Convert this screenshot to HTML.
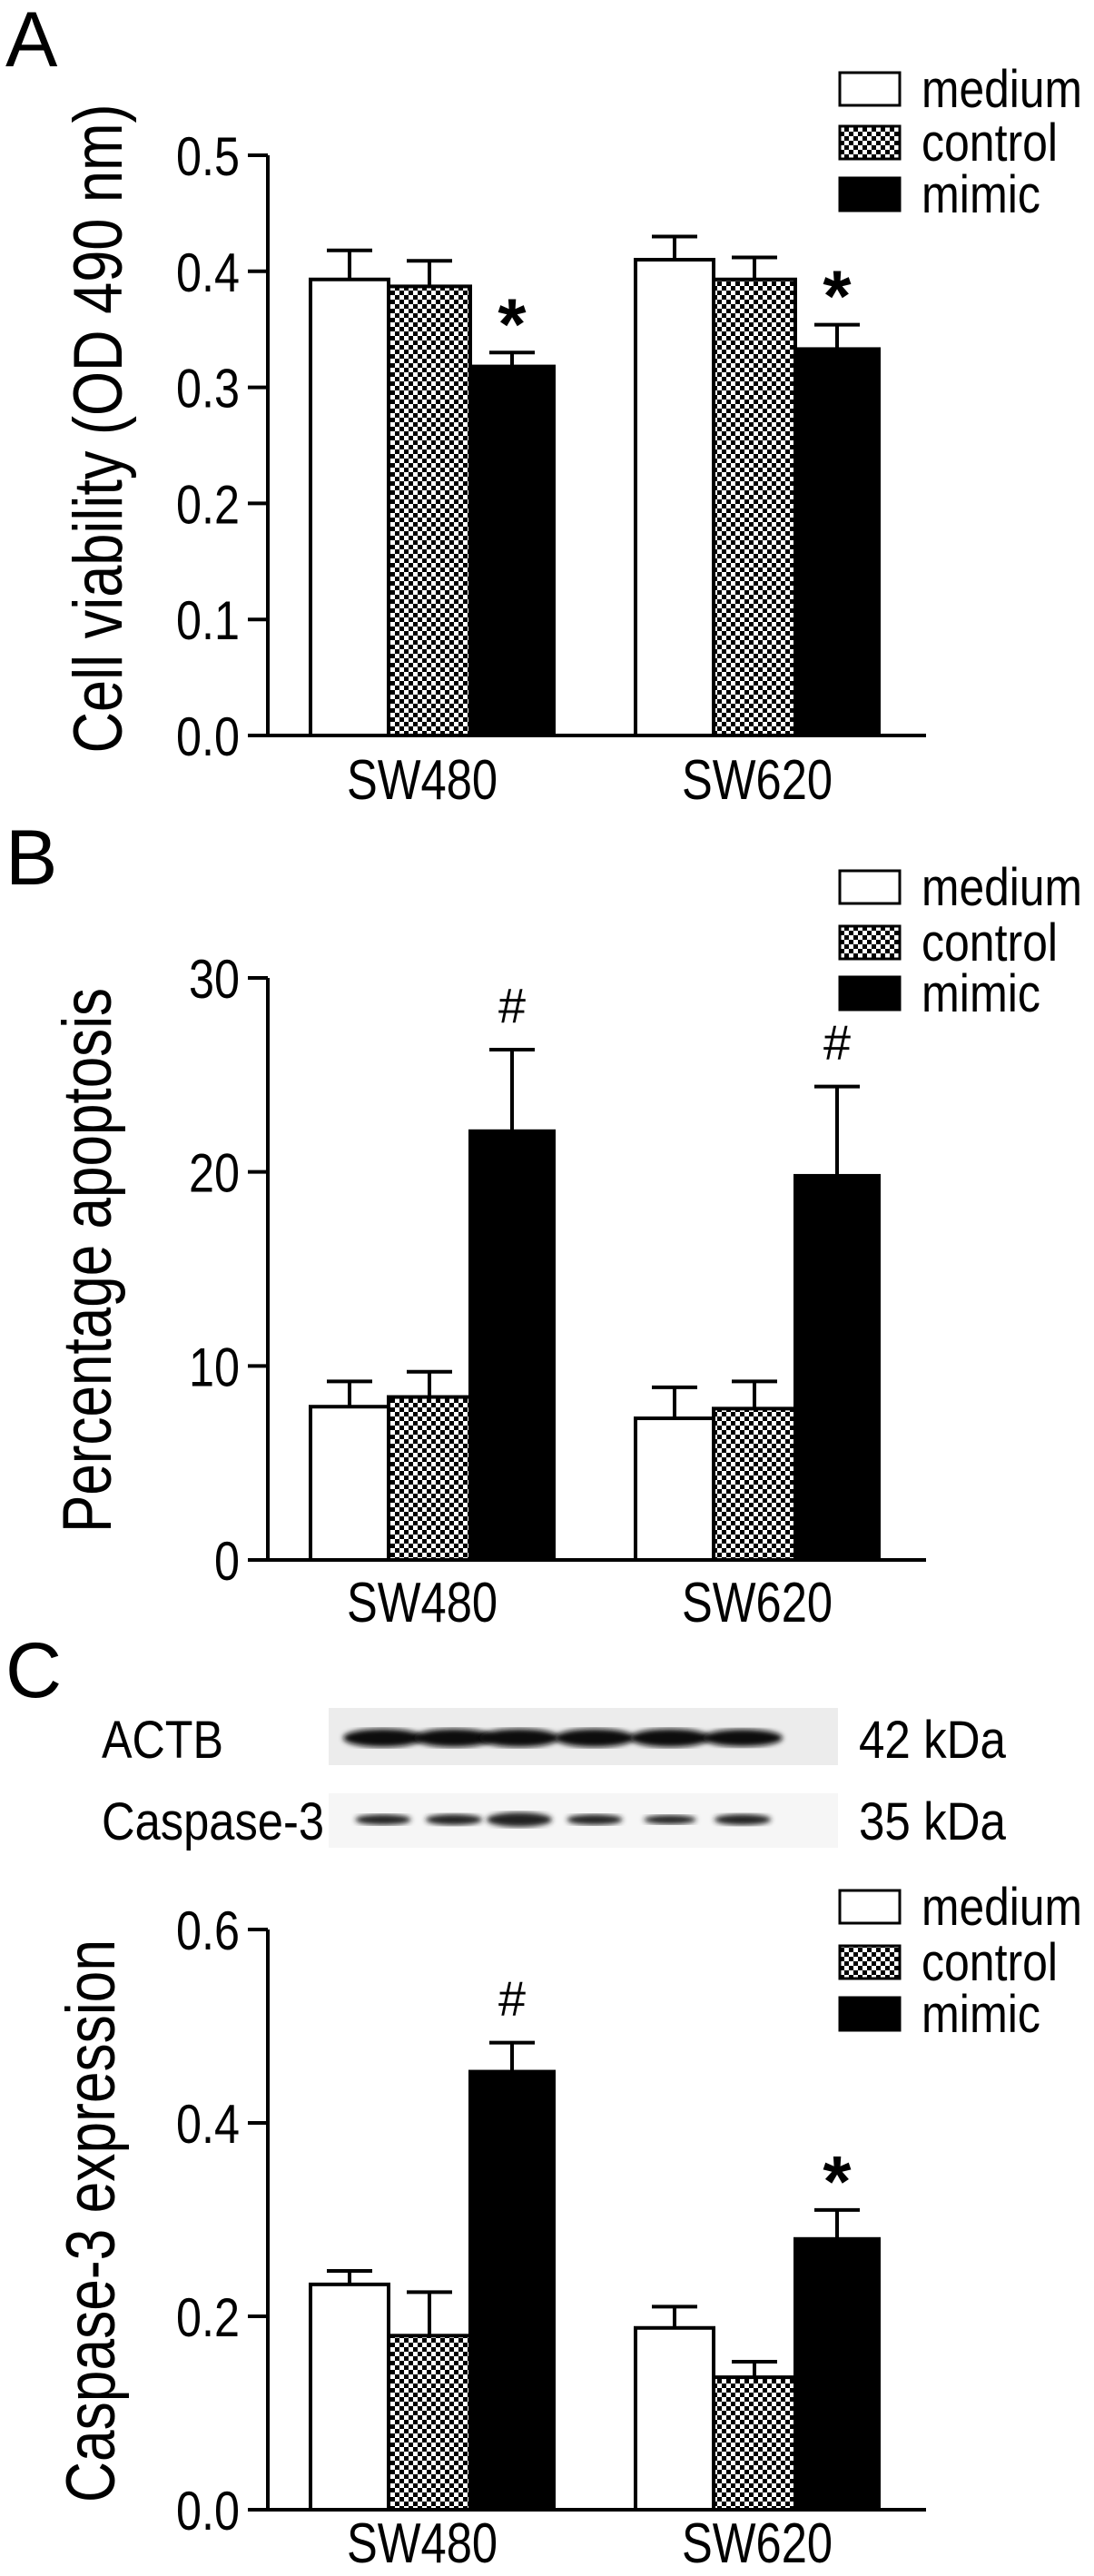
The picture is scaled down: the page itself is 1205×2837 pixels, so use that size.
<!DOCTYPE html>
<html><head><meta charset="utf-8"><style>
html,body{margin:0;padding:0;background:#fff;}
svg{display:block;font-family:"Liberation Sans",Arial,sans-serif;}
</style></head><body>
<svg id="fig" width="1205" height="2837" viewBox="0 0 1205 2837" xmlns="http://www.w3.org/2000/svg">
<defs>
<pattern id="chk" patternUnits="userSpaceOnUse" width="10" height="10">
<rect width="10" height="10" fill="#fff"/><rect width="5" height="5" fill="#000"/><rect x="5" y="5" width="5" height="5" fill="#000"/>
</pattern>
<filter id="blur"><feGaussianBlur stdDeviation="3"/></filter>
</defs>
<g id="root"></g>
</svg>
<script>
const categories = ["SW480","SW620"];
const seriesNames = ["medium","control","mimic"];
// Panel A
const aMean = [[0.393,0.410],[0.387,0.393],[0.318,0.333]];
const aErr  = [[0.418,0.430],[0.409,0.412],[0.330,0.354]];
const aTicks = ["0.0","0.1","0.2","0.3","0.4","0.5"];
const aTickVals = [0,0.1,0.2,0.3,0.4,0.5];
const aMarks = [[null,null],[null,null],["*","*"]];
// Panel B
const bMean = [[7.9,7.3],[8.4,7.8],[22.1,19.8]];
const bErr  = [[9.2,8.9],[9.7,9.2],[26.3,24.4]];
const bTicks = ["0","10","20","30"];
const bTickVals = [0,10,20,30];
const bMarks = [[null,null],[null,null],["#","#"]];
// Panel C
const cMean = [[0.233,0.188],[0.180,0.137],[0.453,0.280]];
const cErr  = [[0.247,0.210],[0.225,0.153],[0.483,0.310]];
const cTicks = ["0.0","0.2","0.4","0.6"];
const cTickVals = [0,0.2,0.4,0.6];
const cMarks = [[null,null],[null,null],["#","*"]];
// Blot band intensities (relative)
const actbBands = [1,1,1,1,1,0.95];
const caspBands = [0.55,0.6,1,0.55,0.4,0.6];

const NS="http://www.w3.org/2000/svg";
const root=document.getElementById('root');
function mk(tag,attrs,parent){const e=document.createElementNS(NS,tag);for(const k in attrs)e.setAttribute(k,attrs[k]);(parent||root).appendChild(e);return e;}
function txt(s,attrs,parent){const e=mk('text',attrs,parent);e.textContent=s;return e;}

function panel(cfg){
  const g=mk('g',{});
  
  
  const y0=cfg.y0,yTop=cfg.yTop,vmax=cfg.vmax;
  const ys=v=>y0-(v/vmax)*(y0-yTop);
  const gStart=[342,700], bw=[86,90,92];
  const xs=(ci,si)=>{let x=gStart[ci];for(let k=0;k<si;k++)x+=bw[k];return x;};
  for(let si=0;si<3;si++)for(let ci=0;ci<2;ci++){
    const x=xs(ci,si),w=bw[si],m=cfg.mean[si][ci],e=cfg.err[si][ci];
    const eb=mk('line',{x1:x+w/2,x2:x+w/2,y1:ys(m),y2:ys(e),stroke:'#000','stroke-width':4},g);
    
    
    const cap=mk('line',{x1:x+w/2-25,x2:x+w/2+25,y1:ys(e),y2:ys(e),stroke:'#000','stroke-width':4},g);
    
    
    const fill=si===0?'#fff':si===1?'url(#chk)':'#000';
    const r=mk('rect',{x:x,y:ys(m),width:w,height:y0-ys(m),fill:fill,stroke:'#000','stroke-width':4},g);
    
    
    const mark=cfg.marks[si][ci];
    if(mark){
      const t=txt(mark,{x:x+w/2,y:ys(e)-(mark==='*'?4:30),'text-anchor':'middle','font-size':mark==='*'?80:54,'font-weight':mark==='*'?'bold':'normal'},g);
      
      
    }
  }
  const ya=mk('line',{x1:295,x2:295,y1:yTop,y2:y0+2,stroke:'#000','stroke-width':4},g);
  
  
  const xa=mk('line',{x1:273,x2:1020,y1:y0,y2:y0,stroke:'#000','stroke-width':4},g);
  
  
  cfg.tickVals.forEach((v,i)=>{
    const tk=mk('line',{x1:273,x2:295,y1:ys(v),y2:ys(v),stroke:'#000','stroke-width':4},g);
    
    
    const lab=cfg.ticks[i];
    const t=txt(lab,{x:264,y:ys(v)+22,'text-anchor':'end','font-size':60,textLength:lab.length===3?70:(lab.length===2?56:28),lengthAdjust:'spacingAndGlyphs'},g);
    
    
  });
  categories.forEach((c,ci)=>{
    const cx=[465,834][ci];
    const t=txt(c,{x:cx,y:cfg.catY+22,'text-anchor':'middle','font-size':62,textLength:166,lengthAdjust:'spacingAndGlyphs'},g);
    
    
  });
  const tt=txt(cfg.title,{x:0,y:0,transform:`translate(${cfg.titleX},${cfg.titleC}) rotate(-90)`,'text-anchor':'middle','font-size':76,textLength:cfg.titleLen,lengthAdjust:'spacingAndGlyphs'},g);
  
  
  const lens=[177,150,131];
  cfg.legend.forEach((ly,si)=>{
    const fill=si===0?'#fff':si===1?'url(#chk)':'#000';
    const b=mk('rect',{x:925,y:ly-18,width:66,height:36,fill:fill,stroke:'#000','stroke-width':3},g);
    
    
    const t=txt(seriesNames[si],{x:1015,y:ly+20,'font-size':58,textLength:lens[si],lengthAdjust:'spacingAndGlyphs'},g);
    
    
  });
  const pl=txt(cfg.letter,{x:6,y:cfg.letterY,'font-size':86},g);
  
  
}

panel({name:'panel-a-cell-viability',y0:810,yTop:171,vmax:0.5,mean:aMean,err:aErr,marks:aMarks,ticks:aTicks,tickVals:aTickVals,catY:858,title:'Cell viability (OD 490 nm)',titleX:134,titleC:472,titleLen:715,legend:[98,157,214],letter:'A',letterY:73});
panel({name:'panel-b-apoptosis',y0:1718,yTop:1077,vmax:30,mean:bMean,err:bErr,marks:bMarks,ticks:bTicks,tickVals:bTickVals,catY:1764,title:'Percentage apoptosis',titleX:122,titleC:1388,titleLen:600,legend:[977,1038,1094],letter:'B',letterY:974});
panel({name:'panel-c-caspase3',y0:2764,yTop:2125,vmax:0.6,mean:cMean,err:cErr,marks:cMarks,ticks:cTicks,tickVals:cTickVals,catY:2800,title:'Caspase-3 expression',titleX:126,titleC:2446,titleLen:620,legend:[2100,2161,2218],letter:'C',letterY:1869});

const wb=mk('g',{});


const bg1=mk('rect',{x:362,y:1881,width:561,height:63,fill:'#ececec'},wb);


const bg2=mk('rect',{x:362,y:1975,width:561,height:60,fill:'#f6f6f6'},wb);


const lanes=[422,500,572,655,738,818];
actbBands.forEach((v,i)=>{
  const e=mk('ellipse',{cx:lanes[i],cy:1914,rx:44,ry:10*v,fill:'#111',filter:'url(#blur)'},wb);
  
  
});
caspBands.forEach((v,i)=>{
  const e=mk('ellipse',{cx:lanes[i],cy:2004,rx:24+12*v,ry:3+5*v,fill:'#222',filter:'url(#blur)'},wb);
  
  
});
const l1=txt('ACTB',{x:112,y:1936,'font-size':58,textLength:134,lengthAdjust:'spacingAndGlyphs'},wb);


const l2=txt('Caspase-3',{x:112,y:2026,'font-size':58,textLength:245,lengthAdjust:'spacingAndGlyphs'},wb);


const k1=txt('42 kDa',{x:946,y:1936,'font-size':58,textLength:162,lengthAdjust:'spacingAndGlyphs'},wb);


const k2=txt('35 kDa',{x:946,y:2026,'font-size':58,textLength:162,lengthAdjust:'spacingAndGlyphs'},wb);


</script>
</body></html>
